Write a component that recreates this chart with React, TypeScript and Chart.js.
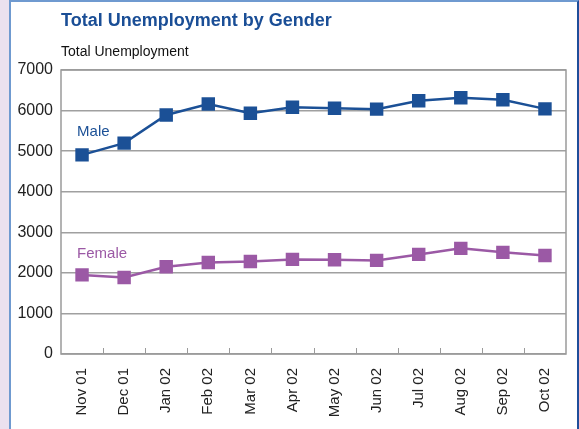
import React, { useEffect, useRef } from "react";
import { Chart, registerables } from "chart.js";

Chart.register(...registerables);

const categories = ["Nov 01", "Dec 01", "Jan 02", "Feb 02", "Mar 02", "Apr 02", "May 02", "Jun 02", "Jul 02", "Aug 02", "Sep 02", "Oct 02"];
const maleValues = [4908, 5198, 5891, 6163, 5933, 6084, 6059, 6035, 6240, 6314, 6265, 6042];
const femaleValues = [1950, 1886, 2149, 2257, 2282, 2332, 2322, 2307, 2455, 2604, 2505, 2430];
const yTicks = [0, 1000, 2000, 3000, 4000, 5000, 6000, 7000];
const seriesLabels = [
  { text: "Male", value: 5470, color: "#1B5096" },
  { text: "Female", value: 2475, color: "#9B59A5" },
];

const FONT = "'Liberation Sans', Arial, Helvetica, sans-serif";

const framePlugin = {
  id: "frameAndTicks",
  afterDraw(chart: any) {
    const { ctx, chartArea } = chart;
    const x = chart.scales.x;
    const y = chart.scales.y;
    ctx.save();
    ctx.strokeStyle = "#9a9a9a";
    ctx.lineWidth = 1.5;
    ctx.strokeRect(chartArea.left, chartArea.top, chartArea.right - chartArea.left, chartArea.bottom - chartArea.top);
    ctx.lineWidth = 1;
    for (let i = 1; i < categories.length; i++) {
      const px = (x.getPixelForValue(i - 1) + x.getPixelForValue(i)) / 2;
      ctx.beginPath();
      ctx.moveTo(Math.round(px) + 0.5, chartArea.bottom);
      ctx.lineTo(Math.round(px) + 0.5, chartArea.bottom - 6);
      ctx.stroke();
    }
    ctx.font = `15px ${FONT}`;
    ctx.textBaseline = "middle";
    ctx.textAlign = "left";
    for (const s of seriesLabels) {
      ctx.fillStyle = s.color;
      ctx.fillText(s.text, x.getPixelForValue(0) - 5, y.getPixelForValue(s.value));
    }
    ctx.restore();
  },
};

export default function App() {
  const ref = useRef<HTMLCanvasElement | null>(null);
  useEffect(() => {
    document.body.style.margin = "0";
    if (!ref.current) return;
    const chart = new Chart(ref.current, {
      type: "line",
      data: {
        labels: categories,
        datasets: [
          {
            label: "Male",
            data: maleValues,
            borderColor: "#1B5096",
            backgroundColor: "#1B5096",
            borderWidth: 2.5,
            pointStyle: "rect",
            pointRadius: 9.5,
            pointBorderWidth: 0,
            pointHoverRadius: 9.5,
            tension: 0,
          },
          {
            label: "Female",
            data: femaleValues,
            borderColor: "#9B59A5",
            backgroundColor: "#9B59A5",
            borderWidth: 2.5,
            pointStyle: "rect",
            pointRadius: 9.5,
            pointBorderWidth: 0,
            pointHoverRadius: 9.5,
            tension: 0,
          },
        ],
      },
      options: {
        animation: false,
        responsive: false,
        maintainAspectRatio: false,
        layout: { padding: { left: 0, top: 70, right: 13, bottom: 0 } },
        plugins: { legend: { display: false }, tooltip: { enabled: false }, title: { display: false } },
        scales: {
          x: {
            offset: true,
            grid: { display: false, offset: true },
            border: { display: false },
            ticks: {
              minRotation: 90,
              maxRotation: 90,
              autoSkip: false,
              padding: 6,
              color: "#222",
              font: { family: FONT, size: 15 },
            },
            afterFit: (scale: any) => {
              scale.height = 75;
            },
          },
          y: {
            min: 0,
            max: 7000,
            afterBuildTicks: (scale: any) => {
              scale.ticks = yTicks.map((v) => ({ value: v }));
            },
            grid: { color: "#a0a0a0", lineWidth: 1.5, drawTicks: false },
            border: { display: false },
            ticks: {
              padding: 8,
              color: "#222",
              font: { family: FONT, size: 16 },
              callback: (v: any) => String(v),
            },
            afterFit: (scale: any) => {
              scale.width = 61;
            },
          },
        },
      },
      plugins: [framePlugin],
    });
    return () => chart.destroy();
  }, []);

  return (
    <div style={{ position: "relative", width: 579, height: 429, background: "#EBE1EF", overflow: "hidden" }}>
      <div
        style={{
          position: "absolute",
          left: 9,
          top: 0,
          width: 566,
          height: 440,
          background: "#fff",
          borderLeft: "2px solid #6F9AD0",
          borderTop: "2px solid #6F9AD0",
          borderRight: "2px solid #1F4E9A",
        }}
      />
      <canvas ref={ref} width={579} height={429} style={{ position: "absolute", left: 0, top: 0 }} />
      <div
        style={{
          position: "absolute",
          left: 61,
          top: 10,
          fontFamily: FONT,
          fontWeight: "bold",
          fontSize: 18,
          color: "#1A4E96",
          whiteSpace: "nowrap",
        }}
      >
        Total Unemployment by Gender
      </div>
      <div
        style={{
          position: "absolute",
          left: 61,
          top: 43,
          fontFamily: FONT,
          fontSize: 14,
          color: "#111",
          whiteSpace: "nowrap",
        }}
      >
        Total Unemployment
      </div>
    </div>
  );
}
